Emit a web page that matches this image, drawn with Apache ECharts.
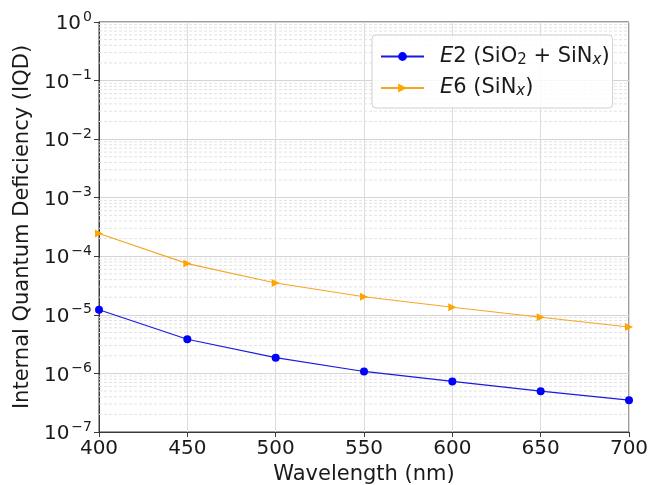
<!DOCTYPE html>
<html>
<head>
<meta charset="utf-8">
<script src="https://cdn.jsdelivr.net/npm/echarts@6/dist/echarts.min.js"></script>
<style>html,body{margin:0;padding:0;background:#fff}#c{width:650px;height:485px}</style>
</head>
<body>
<div id="c"></div>
<script>
const wavelengths = [400, 450, 500, 550, 600, 650, 700];
const e2Values = [1.22e-5, 3.83e-6, 1.86e-6, 1.08e-6, 7.3e-7, 4.98e-7, 3.49e-7];
const e6Values = [2.45e-4, 7.5e-5, 3.5e-5, 2.04e-5, 1.35e-5, 9.1e-6, 6.2e-6];
const seriesNames = ['E2', 'E6'];
const xTicks = [400, 450, 500, 550, 600, 650, 700];
const yDecades = [-7, -6, -5, -4, -3, -2, -1, 0];
const minorFactors = [2, 3, 4, 5, 6, 7, 8, 9];

const FONT = 'DejaVu Sans';
const TXT = '#1a1a1a';
const xMin = xTicks[0], xMax = xTicks[xTicks.length - 1];

// minor grid lines (dashed), one thin line series per minor tick value
const minorSeries = [];
for (let k = yDecades[0]; k < yDecades[yDecades.length - 1]; k++) {
  for (const m of minorFactors) {
    const v = m * Math.pow(10, k);
    minorSeries.push({
      type: 'line', silent: true, symbol: 'none', z: 1,
      data: [[xMin, v], [xMax, v]],
      lineStyle: { type: [3, 2], color: '#e2e2e2', width: 1 },
      emphasis: { disabled: true }, tooltip: { show: false }
    });
  }
}
const sup = (n) => String(n).replace('-', '\u2212');

const chart = echarts.init(document.getElementById('c'), null, { renderer: 'canvas' });
chart.setOption({
  animation: false,
  textStyle: { fontFamily: FONT },
  grid: { left: 99, right: 21, top: 22, bottom: 53, show: true, borderColor: '#3a3a3a', borderWidth: 1,
    backgroundColor: 'transparent', containLabel: false, outerBoundsMode: 'none' },
  legend: {
    data: seriesNames,
    left: 372, top: 35,
    orient: 'vertical',
    itemWidth: 43, itemHeight: 11, itemGap: 10,
    symbolRotate: 'inherit',
    padding: [11, 3, 9, 8],
    borderColor: '#d0d0d0', borderWidth: 1, borderRadius: 4,
    backgroundColor: 'rgba(255,255,255,0.85)',
    formatter: (name) => name === 'E2'
      ? '{i|E}{n|2 (SiO}{s|2}{n| + SiN}{si|x}{n|)}'
      : '{i|E}{n|6 (SiN}{si|x}{n|)}',
    textStyle: {
      fontFamily: FONT, fontSize: 21, color: TXT, padding: [0, 0, 0, 11],
      rich: {
        i: { fontFamily: FONT, fontSize: 21, fontStyle: 'italic', color: TXT },
        n: { fontFamily: FONT, fontSize: 21, color: TXT },
        s: { fontFamily: FONT, fontSize: 15, color: TXT, verticalAlign: 'bottom', padding: [7, 0, 0, 0] },
        si: { fontFamily: FONT, fontSize: 15, fontStyle: 'italic', color: TXT, verticalAlign: 'bottom', padding: [7, 0, 0, 0] }
      }
    }
  },
  xAxis: {
    type: 'value', min: xMin, max: xMax, interval: 50,
    name: 'Wavelength (nm)', nameLocation: 'middle', nameGap: 31,
    nameTextStyle: { fontFamily: FONT, fontSize: 21, color: TXT },
    axisLine: { show: true, lineStyle: { color: '#3a3a3a', width: 1 } },
    axisTick: { show: true, inside: false, length: 5, lineStyle: { color: '#3a3a3a' } },
    axisLabel: { fontFamily: FONT, fontSize: 20, color: TXT, margin: 7 },
    splitLine: { show: true, lineStyle: { color: '#dcdcdc', width: 1 } }
  },
  yAxis: {
    type: 'log', logBase: 10, min: 1e-7, max: 1,
    name: 'Internal Quantum Deficiency (IQD)', nameLocation: 'middle', nameGap: 53,
    nameTextStyle: { fontFamily: FONT, fontSize: 21, color: TXT },
    axisLine: { show: true, lineStyle: { color: '#3a3a3a', width: 1 } },
    axisTick: { show: true, inside: false, length: 5, lineStyle: { color: '#3a3a3a' } },
    axisLabel: {
      fontFamily: FONT, fontSize: 20, color: TXT, margin: 7,
      formatter: (v) => '{b|10}{p|' + sup(Math.round(Math.log10(v))) + '}',
      rich: {
        b: { fontFamily: FONT, fontSize: 20, color: TXT, padding: [4, 0, 0, 0] },
        p: { fontFamily: FONT, fontSize: 14, color: TXT, verticalAlign: 'top', padding: [0, 0, 10, 2] }
      }
    },
    splitLine: { show: true, lineStyle: { color: '#d4d4d4', width: 1 } }
  },
  series: minorSeries.concat([
    {
      name: 'E2', type: 'line',
      data: wavelengths.map((w, i) => [w, e2Values[i]]),
      color: '#1a1ae0',
      lineStyle: { width: 1.2, color: '#1a1ae0' },
      symbol: 'circle', symbolSize: 8,
      itemStyle: { color: '#0000ff' },
      z: 3
    },
    {
      name: 'E6', type: 'line',
      data: wavelengths.map((w, i) => [w, e6Values[i]]),
      color: '#f5a623',
      lineStyle: { width: 1.2, color: '#f5a623' },
      symbol: 'triangle', symbolSize: 8, symbolRotate: -90,
      itemStyle: { color: '#ffa500' },
      z: 3
    }
  ])
});
</script>
</body>
</html>
